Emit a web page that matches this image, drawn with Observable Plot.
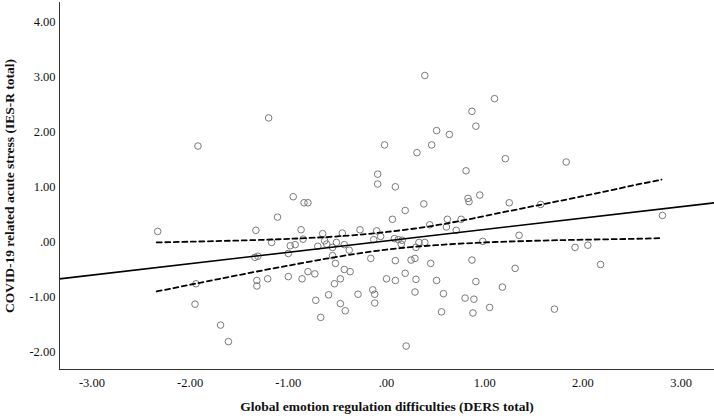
<!DOCTYPE html>
<html>
<head>
<meta charset="utf-8">
<script src="https://cdn.jsdelivr.net/npm/d3@7"></script>
<script src="https://cdn.jsdelivr.net/npm/@observablehq/plot@0.6"></script>
<style>
  html, body { margin: 0; padding: 0; background: #fff; }
  #chart svg { display: block; }
</style>
</head>
<body>
<div id="chart"></div>
<script>
// Scatter points (standardized DERS total, standardized IES-R total)
const xs = [-2.33,-1.92,-1.94,-1.95,-1.69,-1.61,-1.20,-1.33,-1.34,-1.31,-1.32,-1.32,-1.21,-1.17,-1.11,-0.95,-0.98,-0.93,-1.00,-1.00,
  -0.87,-0.85,-0.84,-0.80,-0.86,-0.80,-0.73,-0.70,-0.72,-0.67,-0.65,-0.63,-0.61,-0.59,-0.55,-0.55,-0.53,-0.52,-0.51,-0.45,
  -0.47,-0.47,-0.43,-0.43,-0.42,-0.38,-0.37,-0.27,-0.29,-0.16,-0.14,-0.13,-0.12,-0.12,-0.10,-0.09,-0.09,-0.06,-0.02,0.00,
  0.06,0.08,0.09,0.09,0.09,0.12,0.15,0.16,0.19,0.19,0.20,0.25,0.29,0.29,0.30,0.30,0.31,0.33,0.38,0.39,
  0.39,0.44,0.45,0.46,0.51,0.51,0.56,0.58,0.61,0.62,0.64,0.71,0.76,0.80,0.81,0.83,0.84,0.87,0.87,0.88,
  0.89,0.91,0.91,0.95,0.98,1.05,1.10,1.18,1.21,1.25,1.31,1.35,1.57,1.71,1.83,1.92,2.05,2.18,2.81];
const ys = [0.19,1.74,-0.76,-1.13,-1.51,-1.81,2.25,0.21,-0.28,-0.26,-0.70,-0.80,-0.67,-0.01,0.45,0.82,-0.07,-0.05,-0.21,-0.63,
  0.22,0.05,0.71,0.71,-0.67,-0.54,-0.58,-0.08,-1.06,-1.37,0.15,0.02,-0.04,-0.96,-0.10,-0.25,-0.76,-0.39,-0.01,0.16,
  -0.67,-1.12,-0.05,-0.50,-1.25,-0.15,-0.54,0.22,-0.95,-0.30,-0.87,0.04,-0.95,-1.11,0.20,1.05,1.23,0.10,1.76,-0.67,
  0.41,0.06,-0.34,-0.70,1.00,0.04,-0.04,0.03,0.57,-0.57,-1.89,-0.33,-0.30,-0.91,-0.68,-0.10,1.62,-0.01,0.69,3.02,
  -0.01,0.31,-0.39,1.76,2.02,-0.70,-1.27,-0.94,0.27,0.41,1.95,0.21,0.41,-1.02,1.29,0.79,0.73,2.37,-0.33,-1.29,
  -1.04,2.10,-0.72,0.85,0.01,-1.19,2.60,-0.82,1.51,0.71,-0.48,0.12,0.68,-1.22,1.45,-0.10,-0.06,-0.41,0.48];

// Fit line (read at the frame edges)
const fitX = [-3.33, 3.34];
const fitY = [-0.67, 0.71];

// 95% confidence band
const ciX     = [-2.34, -1.5, -1.0, -0.5, 0.0, 0.5, 1.0, 1.5, 2.0, 2.5, 2.80];
const ciUpper = [-0.01, 0.025, 0.055, 0.10, 0.18, 0.30, 0.47, 0.65, 0.83, 1.02, 1.13];
const ciLower = [-0.90, -0.60, -0.43, -0.27, -0.14, -0.06, -0.01, 0.02, 0.04, 0.055, 0.07];

// Ticks
const xTicks = [-3, -2, -1, 0, 1, 2, 3];
const xTickLabels = ["-3.00", "-2.00", "-1.00", ".00", "1.00", "2.00", "3.00"];
const yTicks = [-2, -1, 0, 1, 2, 3, 4];
const yTickLabels = ["-2.00", "-1.00", ".00", "1.00", "2.00", "3.00", "4.00"];

const xTitle = "Global emotion regulation difficulties (DERS total)";
const yTitle = "COVID-19 related acute stress (IES-R total)";

const points = xs.map((x, i) => ({x, y: ys[i]}));
const fit = fitX.map((x, i) => ({x, y: fitY[i]}));
const upper = ciX.map((x, i) => ({x, y: ciUpper[i]}));
const lower = ciX.map((x, i) => ({x, y: ciLower[i]}));

const xDomain = [-3.33, 3.34];
const yDomain = [-2.316, 4.345];
const font = "'Liberation Serif', 'Times New Roman', serif";

const chart = Plot.plot({
  width: 714,
  height: 418,
  marginLeft: 59,
  marginRight: 0,
  marginTop: 2,
  marginBottom: 49,
  style: {fontFamily: font, fontSize: "12px", background: "#fff", color: "#111"},
  x: {domain: xDomain, label: null},
  y: {domain: yDomain, label: null},
  marks: [
    Plot.axisX({ticks: xTicks, tickFormat: (d) => xTickLabels[xTicks.indexOf(d)], tickSize: 0, tickPadding: 9, fontSize: 12.5, fill: "#111"}),
    Plot.axisY({ticks: yTicks, tickFormat: (d) => yTickLabels[yTicks.indexOf(d)], tickSize: 0, tickPadding: 4, fontSize: 12.5, fill: "#111"}),
    Plot.dot(points, {x: "x", y: "y", r: 3.3, stroke: "#7a7a7a", strokeWidth: 1, fill: "none"}),
    Plot.line(fit, {x: "x", y: "y", stroke: "#000", strokeWidth: 1.7, clip: true}),
    Plot.line(upper, {x: "x", y: "y", stroke: "#000", strokeWidth: 1.8, strokeDasharray: "5,3.5", curve: "natural"}),
    Plot.line(lower, {x: "x", y: "y", stroke: "#000", strokeWidth: 1.8, strokeDasharray: "5,3.5", curve: "natural"}),
    Plot.ruleX([xDomain[0]], {stroke: "#333", strokeWidth: 1}),
    Plot.ruleY([yDomain[0]], {stroke: "#333", strokeWidth: 1}),
    Plot.text([xTitle], {frameAnchor: "bottom", dy: 41, textAnchor: "middle", fontWeight: "bold", fontSize: 13.5, fill: "#111"}),
    Plot.text([yTitle], {frameAnchor: "left", dx: -50, textAnchor: "middle", rotate: -90, fontWeight: "bold", fontSize: 13.5, fill: "#111"})
  ]
});
document.getElementById("chart").appendChild(chart);
</script>
</body>
</html>
